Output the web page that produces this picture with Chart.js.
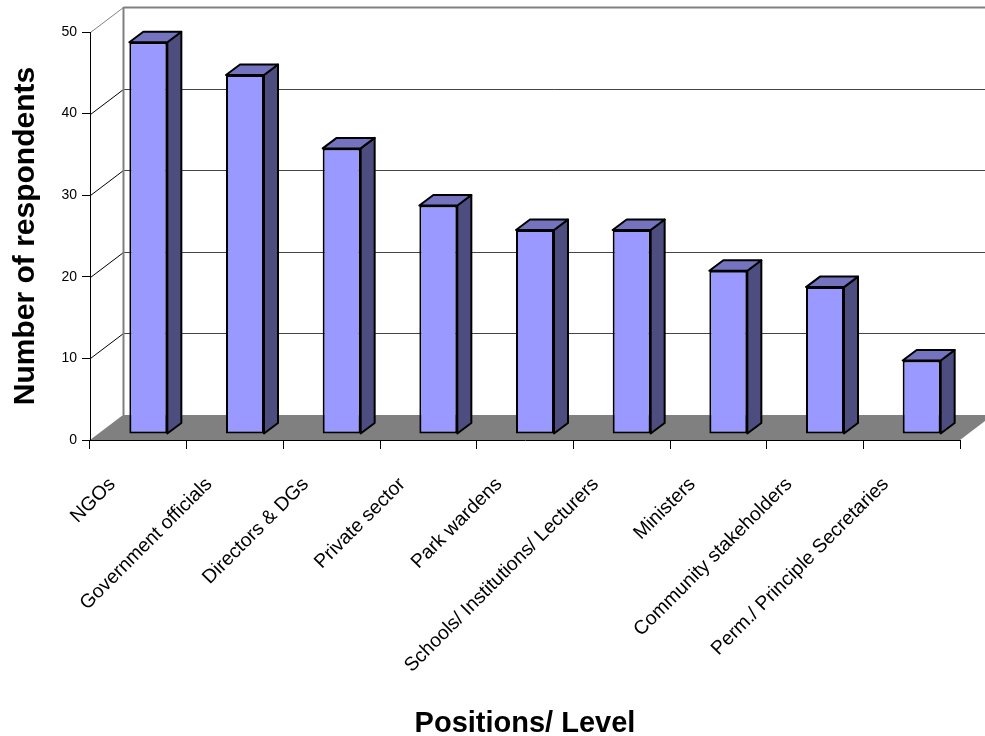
<!DOCTYPE html>
<html>
<head>
<meta charset="utf-8">
<title>Positions / Level</title>
<script src="https://cdn.jsdelivr.net/npm/chart.js@4.4.1/dist/chart.umd.min.js"></script>
<style>
  body { margin: 0; background: #fff; }
  canvas { display: block; }
</style>
</head>
<body>
<canvas id="chart" width="985" height="736"></canvas>
<script>
// données
const categories = [
    "NGOs",
    "Government officials",
    "Directors & DGs",
    "Private sector",
    "Park wardens",
    "Schools/ Institutions/ Lecturers",
    "Ministers",
    "Community stakeholders",
    "Perm./ Principle Secretaries"
];
const respondents = [48, 44, 35, 28, 25, 25, 20, 18, 9];
const yMin = 0;
const yMax = 50;
const yStep = 10;

// effet 3D (projection oblique)
const wallDepth = { dx: 33, dy: -25 };   // mur du fond
const barShift = { dx: 10, dy: -6 };     // face avant des barres
const barDepth = { dx: 14, dy: -10.5 };  // profondeur des barres

const frontColor = "#9999FF";
const sideColor = "#4D4D80";
const topColor = "#7373BF";
const floorColor = "#808080";

const font = "'Liberation Sans', Arial, sans-serif";

function poly(ctx, pts, fill, stroke, lw) {
    ctx.beginPath();
    ctx.moveTo(pts[0][0], pts[0][1]);
    for (let i = 1; i < pts.length; i++) ctx.lineTo(pts[i][0], pts[i][1]);
    ctx.closePath();
    if (fill) { ctx.fillStyle = fill; ctx.fill(); }
    if (stroke) { ctx.strokeStyle = stroke; ctx.lineWidth = lw; ctx.stroke(); }
}

const walls3d = {
    id: "walls3d",
    beforeDraw(chart) {
        const { ctx, chartArea: a, scales: { y } } = chart;
        const L = a.left + 0.5, R = a.right;
        const dx = wallDepth.dx, dy = wallDepth.dy;
        ctx.save();
        ctx.lineWidth = 1;
        // lignes de grille : diagonale sur le mur gauche + horizontale au fond
        y.ticks.forEach(t => {
            const py = Math.round(y.getPixelForValue(t.value)) + 0.5;
            if (t.value === yMin) return;
            const top = t.value === yMax;
            ctx.strokeStyle = top ? "#808080" : "#000";
            ctx.beginPath();
            ctx.moveTo(L, py);
            ctx.lineTo(L + dx, py + dy);
            ctx.stroke();
            ctx.strokeStyle = top ? "#808080" : "#444";
            ctx.lineWidth = top ? 2 : 1;
            ctx.beginPath();
            ctx.moveTo(L + dx, py + dy);
            ctx.lineTo(R + dx, py + dy);
            ctx.stroke();
            ctx.lineWidth = 1;
        });
        // arête verticale du fond
        const yTop = y.getPixelForValue(yMax), yBot = y.getPixelForValue(yMin);
        ctx.strokeStyle = "#808080";
        ctx.lineWidth = 2;
        ctx.beginPath();
        ctx.moveTo(L + dx, yTop + dy);
        ctx.lineTo(L + dx, yBot + dy);
        ctx.stroke();
        // sol
        poly(ctx, [[a.left, yBot], [R, yBot], [R + dx, yBot + dy], [a.left + dx, yBot + dy]], floorColor, null, 0);
        ctx.restore();
    },
    beforeDatasetDraw(chart) {
        chart.ctx.save();
        chart.ctx.translate(barShift.dx, barShift.dy);
    },
    afterDatasetDraw(chart, args) {
        const ctx = chart.ctx;
        // faces du dessus et de côté
        args.meta.data.forEach(bar => {
            const p = bar.getProps(["x", "y", "base", "width"], true);
            const xl = p.x - p.width / 2, xr = p.x + p.width / 2;
            const yt = p.y, yb = p.base;
            const ddx = barDepth.dx, ddy = barDepth.dy;
            ctx.lineJoin = "round";
            poly(ctx, [[xr, yt], [xr + ddx, yt + ddy], [xr + ddx, yb + ddy], [xr, yb]], sideColor, "#000", 2);
            poly(ctx, [[xl, yt], [xl + ddx, yt + ddy], [xr + ddx, yt + ddy], [xr, yt]], topColor, "#000", 2);
        });
        ctx.restore();
    }
};

const ctx0 = document.getElementById("chart");

const chart = new Chart(ctx0, {
    type: "bar",
    data: {
        labels: categories,
        datasets: [{
            data: respondents,
            backgroundColor: frontColor,
            borderColor: "#000",
            borderWidth: 2,
            borderSkipped: false,
            categoryPercentage: 1,
            barPercentage: 0.393,
            clip: false
        }]
    },
    plugins: [walls3d],
    options: {
        responsive: false,
        animation: false,
        events: [],
        layout: {
            padding: { left: 0, top: 32, right: 25, bottom: 0 }
        },
        plugins: {
            legend: { display: false },
            tooltip: { enabled: false }
        },
        scales: {
            x: {
                afterFit(scale) { scale.height = 296; },
                grid: {
                    offset: true,
                    drawOnChartArea: false,
                    tickLength: 9,
                    tickColor: "#000",
                    color: "#000"
                },
                border: { display: true, color: "#000", width: 1 },
                ticks: {
                    autoSkip: false,
                    minRotation: 45,
                    maxRotation: 45,
                    padding: 24,
                    labelOffset: -26,
                    color: "#000",
                    font: { family: font, size: 19.5 }
                },
                title: {
                    display: true,
                    text: "Positions/ Level",
                    color: "#000",
                    padding: { top: 0, bottom: 0 },
                    font: { family: font, size: 29, weight: "bold", lineHeight: 0.8 }
                }
            },
            y: {
                min: yMin,
                max: yMax,
                afterFit(scale) { scale.width = 90; },
                grid: {
                    drawOnChartArea: false,
                    tickLength: 8,
                    tickColor: "#000",
                    color: "#000"
                },
                border: { display: true, color: "#000", width: 1 },
                ticks: {
                    stepSize: yStep,
                    padding: 5,
                    color: "#000",
                    font: { family: font, size: 14 }
                },
                title: {
                    display: true,
                    text: "Number of respondents",
                    color: "#000",
                    padding: { top: 8, bottom: 0 },
                    font: { family: font, size: 30, weight: "bold", lineHeight: 1.2 }
                }
            }
        }
    }
});
</script>
</body>
</html>
